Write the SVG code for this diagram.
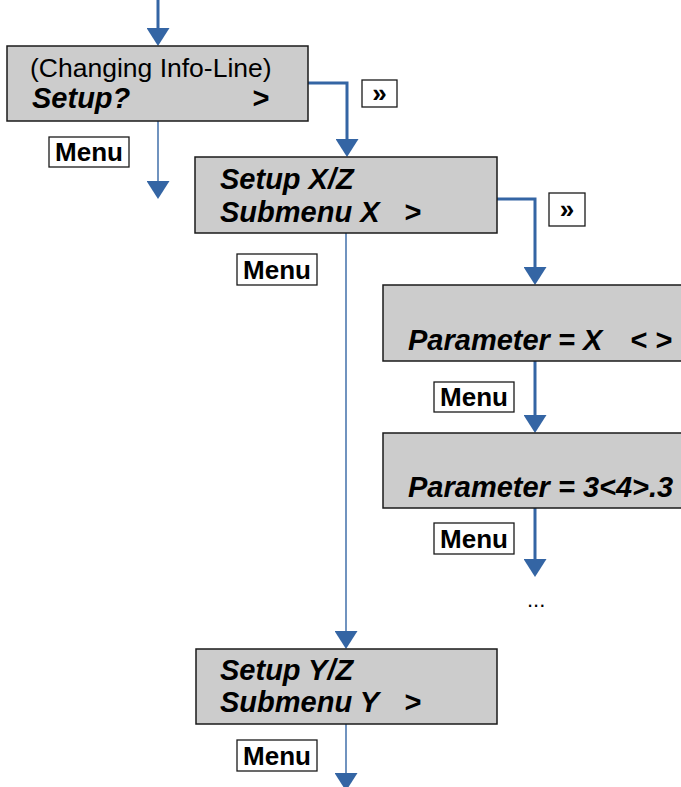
<svg xmlns="http://www.w3.org/2000/svg" width="681" height="787" viewBox="0 0 681 787">
<style>
.box{fill:#cccccc;stroke:#1a1a1a;stroke-width:1.5}
.key{fill:#ffffff;stroke:#1a1a1a;stroke-width:1.3}
.t{font-family:"Liberation Sans",Arial,sans-serif;fill:#000}
.bi{font-size:29px;font-weight:bold;font-style:italic}
.n{font-size:26.5px}
.k{font-size:26px;font-weight:bold;text-anchor:middle}
.thick{fill:none;stroke:#3465a4;stroke-width:3}
.thin{fill:none;stroke:#3465a4;stroke-width:1.4}
</style>
<defs>
<marker id="ah" viewBox="0 0 18 23" markerWidth="18" markerHeight="23" refX="14" refY="11.5" orient="auto" markerUnits="userSpaceOnUse">
<path d="M0,0 L18,11.5 L0,23 z" fill="#3465a4"/>
</marker>
</defs>
<g id="connectors">
<path class="thick" d="M158,0 V42" marker-end="url(#ah)"/>
<path class="thick" d="M308,83 H347 V153" marker-end="url(#ah)"/>
<path class="thin" d="M158,121 V195" marker-end="url(#ah)"/>
<path class="thick" d="M497,199 H535 V281" marker-end="url(#ah)"/>
<path class="thin" d="M346,233 V645" marker-end="url(#ah)"/>
<path class="thick" d="M535,361 V429" marker-end="url(#ah)"/>
<path class="thick" d="M535,508 V573" marker-end="url(#ah)"/>
<path class="thin" d="M346,724 V787" marker-end="url(#ah)"/>
</g>
<g id="node-setup">
<rect class="box" x="7" y="46" width="301" height="75"/>
<text class="t n" x="30" y="77">(Changing Info-Line)</text>
<text class="t bi" x="32" y="108">Setup?</text>
<text class="t bi" x="252" y="108">&gt;</text>
</g>
<g id="key-next-1">
<rect class="key" x="362" y="80" width="35" height="27"/>
<text class="t k" x="379.5" y="102">»</text>
</g>
<g id="key-menu-1">
<rect class="key" x="49" y="137" width="80" height="30"/>
<text class="t k" x="89" y="161">Menu</text>
</g>
<g id="node-setup-xz">
<rect class="box" x="195" y="157" width="302" height="76"/>
<text class="t bi" x="220" y="189">Setup X/Z</text>
<text class="t bi" x="220" y="222">Submenu X</text>
<text class="t bi" x="404" y="222">&gt;</text>
</g>
<g id="key-next-2">
<rect class="key" x="549" y="193" width="36" height="33"/>
<text class="t k" x="567" y="218">»</text>
</g>
<g id="key-menu-2">
<rect class="key" x="237" y="254" width="80" height="31"/>
<text class="t k" x="277" y="279">Menu</text>
</g>
<g id="node-param-x">
<rect class="box" x="383" y="285" width="320" height="76"/>
<text class="t bi" x="408" y="350">Parameter = X</text>
<text class="t bi" x="630" y="350">&lt; &gt;</text>
</g>
<g id="key-menu-3">
<rect class="key" x="434" y="382" width="80" height="30"/>
<text class="t k" x="474" y="406">Menu</text>
</g>
<g id="node-param-3">
<rect class="box" x="383" y="433" width="320" height="75"/>
<text class="t bi" x="408" y="497">Parameter = 3&lt;4&gt;.3</text>
</g>
<g id="key-menu-4">
<rect class="key" x="434" y="523" width="80" height="31"/>
<text class="t k" x="474" y="548">Menu</text>
</g>
<g id="ellipsis">
<text class="t" x="527" y="607" style="font-size:22px">...</text>
</g>
<g id="node-setup-yz">
<rect class="box" x="196" y="649" width="301" height="75"/>
<text class="t bi" x="220" y="680">Setup Y/Z</text>
<text class="t bi" x="220" y="712">Submenu Y</text>
<text class="t bi" x="404" y="712">&gt;</text>
</g>
<g id="key-menu-5">
<rect class="key" x="237" y="740" width="80" height="31"/>
<text class="t k" x="277" y="765">Menu</text>
</g>
</svg>
